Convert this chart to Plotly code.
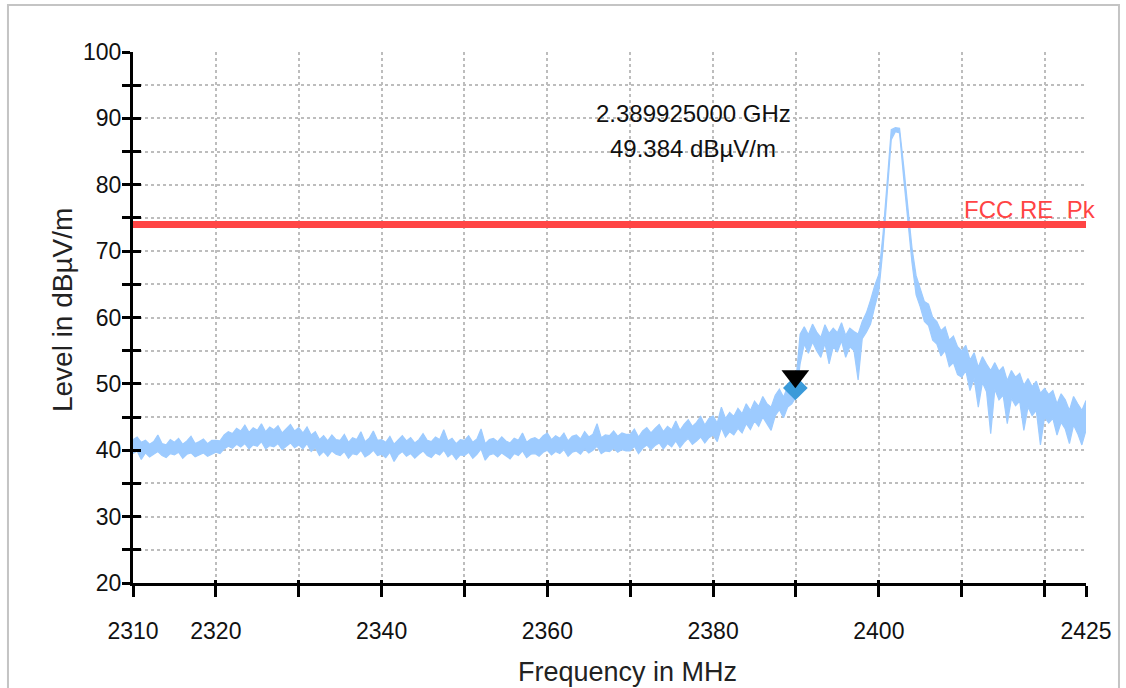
import numpy as np
import plotly.graph_objects as go

# ---------------- data ----------------
# spectrum shown as min/max per 0.5 MHz display bin
freq_start_mhz = 2310.0
freq_step_mhz = 0.5
level_max_dbuv = [
    # 2310 - 2319.5
    41.6, 42.0, 41.2, 41.5, 40.9, 41.3, 42.3, 41.0, 40.8, 41.6,
    41.2, 41.8, 40.9, 41.4, 42.1, 41.0, 41.3, 41.7, 41.0, 41.5,
    # 2320 - 2329.5
    41.5, 41.4, 42.3, 42.8, 42.5, 43.3, 42.9, 43.8, 42.7, 43.4,
    43.0, 44.0, 42.8, 43.5, 43.1, 43.7, 42.6, 43.2, 43.9, 42.9,
    # 2330 - 2339.5
    43.4, 42.6, 43.5, 42.3, 42.8, 41.6, 42.2, 41.4, 42.3, 41.6,
    41.5, 42.4, 41.2, 41.9, 41.6, 42.8, 41.3, 41.8, 42.9, 41.5,
    # 2340 - 2349.5
    41.6, 41.2, 42.1, 40.9, 41.5, 42.2, 41.4, 41.9, 41.1, 41.6,
    42.5, 41.5, 41.3, 42.0, 41.6, 43.1, 41.4, 41.8, 41.0, 41.6,
    # 2350 - 2359.5
    41.5, 42.2, 41.2, 41.7, 43.2, 41.0, 41.6, 41.8, 41.3, 42.0,
    41.4, 41.1, 41.8, 41.5, 42.6, 41.2, 41.7, 41.9, 41.5, 42.2,
    # 2360 - 2369.5
    42.6, 41.6, 42.2, 41.8, 42.6, 41.4, 42.1, 42.3, 41.7, 42.8,
    42.0, 42.4, 44.0, 41.9, 42.3, 42.2, 42.9, 42.1, 42.6, 42.4,
    # 2370 - 2379.5
    42.4, 43.2, 42.0, 42.9, 43.4, 42.6, 43.3, 43.9, 42.8, 43.6,
    43.1, 44.4, 43.0, 43.9, 44.6, 43.6, 44.2, 45.1, 43.8, 44.8,
    # 2380 - 2389.5
    45.2, 44.1, 46.5, 44.8, 45.7, 45.1, 46.3, 45.5, 47.0, 46.0,
    47.4, 46.6, 48.1, 47.0, 46.5, 48.3, 49.2, 48.0, 49.6, 50.2,
    # 2390 - 2399.5
    50.5, 57.5, 58.6, 57.4, 59.0, 57.8, 57.0, 58.9, 57.6, 58.4,
    57.7, 59.2, 57.3, 58.4, 57.9, 57.5, 59.4, 60.7, 62.6, 64.8,
    # 2400 - 2409.5
    66.5, 72.5, 80.3, 88.3, 88.6, 88.5, 82.8, 76.8, 70.5, 66.3,
    64.5, 62.4, 62.0, 60.0, 59.4, 58.0, 58.6, 56.6, 57.2, 55.6,
    # 2410 - 2419.5
    55.0, 55.8, 53.6, 54.7, 52.5, 54.1, 53.0, 52.0, 53.2, 51.9,
    52.6, 50.5, 52.0, 51.0, 51.6, 49.8, 50.8, 49.6, 50.4, 48.6,
    # 2420 - 2425
    49.3, 48.4, 49.0, 47.0, 48.5, 47.6, 46.0, 48.1, 47.0, 46.0,
    47.5,
]
level_min_dbuv = [
    # 2310 - 2319.5
    39.5, 39.9, 38.6, 39.6, 39.0, 39.4, 39.8, 39.2, 38.9, 39.5,
    39.3, 39.7, 38.8, 39.4, 39.6, 39.0, 39.3, 39.6, 39.1, 39.4,
    # 2320 - 2329.5
    39.7, 39.5, 40.2, 40.6, 40.3, 40.9, 40.5, 41.0, 40.2, 40.8,
    40.6, 41.3, 40.2, 40.7, 40.5, 41.0, 40.1, 40.6, 41.1, 40.4,
    # 2330 - 2339.5
    40.8, 40.2, 41.0, 39.8, 40.4, 39.2, 39.8, 39.1, 39.9, 39.4,
    39.2, 39.8, 38.8, 39.5, 39.3, 40.0, 39.0, 39.4, 40.0, 39.2,
    # 2340 - 2349.5
    39.4, 38.9, 39.7, 38.3, 39.3, 39.8, 39.1, 39.5, 38.8, 39.4,
    39.9, 39.2, 38.9, 39.6, 39.3, 40.0, 39.0, 39.5, 38.6, 39.3,
    # 2350 - 2359.5
    39.2, 39.7, 38.8, 39.4, 40.2, 38.5, 39.3, 39.5, 39.0, 39.6,
    39.1, 38.7, 39.5, 39.2, 39.9, 38.9, 39.4, 39.5, 39.1, 39.7,
    # 2360 - 2369.5
    40.0, 39.3, 39.8, 39.5, 40.1, 39.1, 39.7, 39.9, 39.4, 40.2,
    39.6, 40.0, 40.6, 39.5, 39.9, 39.8, 40.3, 39.7, 40.1, 39.9,
    # 2370 - 2379.5
    39.9, 40.6, 39.5, 40.3, 40.8, 40.1, 40.7, 41.1, 40.2, 41.0,
    40.5, 41.4, 40.4, 41.2, 41.8, 40.9, 41.4, 42.0, 41.1, 41.9,
    # 2380 - 2389.5
    42.3, 41.3, 43.4, 42.0, 42.8, 42.3, 43.3, 42.6, 44.0, 43.1,
    44.4, 43.6, 45.0, 44.0, 43.0, 45.2, 46.1, 44.9, 46.5, 47.0,
    # 2390 - 2399.5
    48.0, 53.0, 56.0, 54.6, 56.3, 55.0, 54.0, 56.1, 53.0, 55.6,
    54.8, 56.5, 54.0, 55.6, 55.0, 50.6, 56.8, 57.8, 59.0, 61.6,
    # 2400 - 2409.5
    64.0, 70.3, 78.5, 86.8, 88.0, 87.8, 81.0, 75.0, 68.3, 63.4,
    61.6, 59.4, 58.8, 56.6, 56.0, 54.2, 55.0, 52.6, 53.2, 51.4,
    # 2410 - 2419.5
    51.0, 52.0, 49.0, 50.8, 46.5, 50.2, 48.8, 42.5, 49.2, 47.6,
    48.3, 44.0, 47.8, 46.7, 47.4, 43.0, 46.5, 45.2, 46.0, 40.8,
    # 2420 - 2425
    45.0, 44.1, 44.8, 42.3, 44.2, 43.2, 41.0, 43.8, 42.5, 40.8,
    43.0,
]
freq_mhz = freq_start_mhz + freq_step_mhz * np.arange(len(level_max_dbuv))

limit_name = "FCC RE_Pk"
limit_level = 74.0

marker_freq_mhz = 2389.925
marker_level = 49.384

x_title = "Frequency in MHz"
y_title = "Level in dBµV/m"
x_range = [2310, 2425]
y_range = [20, 100]
x_tick_vals = [2310, 2320, 2330, 2340, 2350, 2360, 2370, 2380, 2390, 2400, 2410, 2420, 2425]
x_tick_text = ["2310", "2320", "", "2340", "", "2360", "", "2380", "", "2400", "", "", "2425"]
y_tick_vals = list(range(20, 101, 5))
y_tick_text = [str(v) if v % 10 == 0 else "" for v in y_tick_vals]

# ---------------- figure ----------------
FONT = "Liberation Sans, Arial, sans-serif"
TRACE_COLOR = "#9dcbff"
fig = go.Figure()

fig.add_trace(go.Scatter(
    x=freq_mhz, y=level_min_dbuv, mode="lines",
    line=dict(color=TRACE_COLOR, width=1.2), hoverinfo="skip",
))
fig.add_trace(go.Scatter(
    x=freq_mhz, y=level_max_dbuv, mode="lines", fill="tonexty", fillcolor=TRACE_COLOR,
    line=dict(color=TRACE_COLOR, width=1.2), hoverinfo="skip",
))

fig.add_trace(go.Scatter(
    x=x_range, y=[limit_level, limit_level], mode="lines",
    line=dict(color="#ff4444", width=7), hoverinfo="skip",
))

fig.add_trace(go.Scatter(
    x=[marker_freq_mhz], y=[marker_level], mode="markers",
    marker=dict(symbol="diamond", size=19, color="#3a9ad9"),
))
fig.add_trace(go.Scatter(
    x=[marker_freq_mhz], y=[marker_level + 1.75], mode="markers",
    marker=dict(symbol="triangle-down", size=24, color="black"),
))

# invisible trace on overlay axes to draw inward part of crossing ticks
fig.add_trace(go.Scatter(x=[x_range[0]], y=[y_range[0]], xaxis="x2", yaxis="y2",
                         mode="markers", marker=dict(opacity=0), hoverinfo="skip"))

axis_common = dict(
    showline=True, linecolor="black", linewidth=3,
    ticks="outside", tickcolor="black", tickwidth=3,
    showgrid=True, gridcolor="#bdbdbd", gridwidth=2, griddash="dot",
    zeroline=False, automargin=False,
    tickfont=dict(family=FONT, size=23, color="#111"),
)

fig.update_layout(
    width=1126, height=688, autosize=False,
    margin=dict(l=133, r=40, t=52, b=105),
    paper_bgcolor="white", plot_bgcolor="white",
    showlegend=False,
    xaxis=dict(range=x_range, tickmode="array", tickvals=x_tick_vals, ticktext=x_tick_text,
               ticklen=11, ticklabelstandoff=14, **axis_common),
    yaxis=dict(range=y_range, tickmode="array", tickvals=y_tick_vals, ticktext=y_tick_text,
               ticklen=8, ticklabelstandoff=-4, **axis_common),
    xaxis2=dict(overlaying="x", range=x_range, tickmode="array", tickvals=x_tick_vals,
                ticks="inside", ticklen=3, tickwidth=3, tickcolor="black",
                showticklabels=False, showgrid=False, zeroline=False, showline=False),
    yaxis2=dict(overlaying="y", range=y_range, tickmode="array", tickvals=y_tick_vals,
                ticks="inside", ticklen=8, tickwidth=3, tickcolor="black",
                showticklabels=False, showgrid=False, zeroline=False, showline=False),
)

# axis titles
fig.add_annotation(x=0.519, y=-0.1676, xref="paper", yref="paper", showarrow=False,
                   xanchor="center", yanchor="middle", text=x_title,
                   font=dict(family=FONT, size=27, color="#222"))
fig.add_annotation(x=-0.0745, y=0.514, xref="paper", yref="paper", showarrow=False,
                   xanchor="center", yanchor="middle", textangle=-90, text=y_title,
                   font=dict(family=FONT, size=28, color="#222"))

fig.add_annotation(x=2377.6, y=90.8, xref="x", yref="y", showarrow=False,
                   text=f"{marker_freq_mhz / 1000:.9f} GHz",
                   font=dict(family=FONT, size=24, color="#111"))
fig.add_annotation(x=2377.6, y=85.5, xref="x", yref="y", showarrow=False,
                   text=f"{marker_level:.3f} dBµV/m",
                   font=dict(family=FONT, size=24, color="#111"))
fig.add_annotation(x=1.0126, y=limit_level, xref="paper", yref="y", showarrow=False,
                   xanchor="right", yanchor="bottom", yshift=0,
                   text=limit_name, font=dict(family=FONT, size=24, color="#ff4444"))

# window frame
fig.add_shape(type="rect", xref="paper", yref="paper",
              x0=-0.1312, x1=1.0346, y0=-0.25, y1=1.0885,
              line=dict(color="#c4c4c4", width=2), fillcolor="rgba(0,0,0,0)", layer="below")

fig.write_html("out.html", config={"displayModeBar": False},
               post_script="document.body.style.margin='0px';")
